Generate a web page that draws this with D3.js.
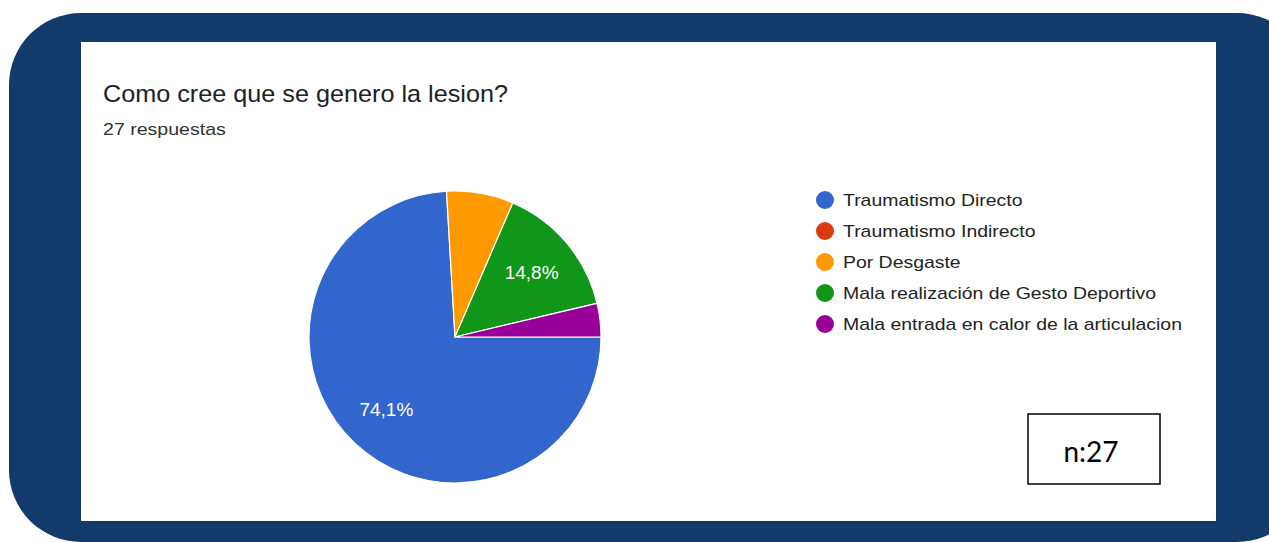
<!DOCTYPE html>
<html>
<head>
<meta charset="utf-8">
<script src="https://cdn.jsdelivr.net/npm/d3@7"></script>
<style>
  html, body { margin: 0; padding: 0; background: #ffffff; }
  svg { display: block; }
</style>
</head>
<body>
<svg id="chart" width="1269" height="542"></svg>
<script>
// Survey answers: how the injury was caused (27 responses)
const categories = [
  "Traumatismo Directo",
  "Traumatismo Indirecto",
  "Por Desgaste",
  "Mala realización de Gesto Deportivo",
  "Mala entrada en calor de la articulacion"
];
const counts = [20, 0, 2, 4, 1];
const sliceColors = ["#3366cc", "#dc3912", "#ff9900", "#109618", "#990099"];
const titleText = "Como cree que se genero la lesion?";
const subtitleText = "27 respuestas";
const sampleText = "n:27";

const svg = d3.select("#chart");
const SANS = "'Liberation Sans', Arial, sans-serif";

// Writes a text at (x, y) and stretches it horizontally to a given width
function wideText(parent, x, y, str, size, width, opts = {}) {
  const g = parent.append("g");
  const t = g.append("text")
    .attr("font-family", opts.family || SANS)
    .attr("font-size", size)
    .attr("fill", opts.fill || "#222222")
    .attr("text-anchor", opts.anchor || "start")
    .attr("dy", opts.dy || null)
    .text(str);
  const w = t.node().getComputedTextLength();
  const sx = width ? width / w : 1;
  g.attr("transform", `translate(${x},${y}) scale(${sx},1)`);
  return g;
}

// Navy rounded frame and white card
svg.append("rect")
  .attr("x", 9).attr("y", 13)
  .attr("width", 1300).attr("height", 529)
  .attr("rx", 72).attr("ry", 72)
  .attr("fill", "#123b6b");
svg.append("rect")
  .attr("x", 81).attr("y", 42)
  .attr("width", 1135).attr("height", 479)
  .attr("fill", "#ffffff");

// Titles
wideText(svg, 103, 102, titleText, 24, 405, { fill: "#202124" });
wideText(svg, 103, 135, subtitleText, 16, 123, { fill: "#333333" });

// Pie
const cx = 455, cy = 337, R = 146;
const total = d3.sum(counts);
const pie = d3.pie().sort(null).value(d => d)
  .startAngle(Math.PI / 2).endAngle(Math.PI / 2 + 2 * Math.PI);
const arcs = pie(counts);
const arc = d3.arc().innerRadius(0).outerRadius(R);
const labelArc = d3.arc().innerRadius(R * 0.685).outerRadius(R * 0.685);

const g = svg.append("g").attr("transform", `translate(${cx},${cy})`);
g.selectAll("path.slice")
  .data(arcs.filter(d => d.value > 0))
  .join("path")
  .attr("class", "slice")
  .attr("d", arc)
  .attr("fill", d => sliceColors[d.index])
  .attr("stroke", "#ffffff")
  .attr("stroke-width", 1.2);

const fmt = v => (v * 100).toFixed(1).replace(".", ",") + "%";
arcs.filter(d => d.value / total > 0.1).forEach(d => {
  const [lx, ly] = labelArc.centroid(d);
  wideText(g, lx, ly, fmt(d.value / total), 17.5, 54,
    { fill: "#ffffff", anchor: "middle", dy: "0.35em" });
});

// Legend
const legendY = d3.scalePoint().domain(categories).range([200, 324]);
const legend = svg.append("g");
categories.forEach((c, i) => {
  legend.append("circle")
    .attr("cx", 825).attr("cy", legendY(c))
    .attr("r", 9)
    .attr("fill", sliceColors[i]);
});
// all legend labels share one horizontal stretch
const probe = legend.append("text")
  .attr("font-family", SANS).attr("font-size", 17)
  .text(categories[4]);
const legendScale = 339 / probe.node().getComputedTextLength();
probe.remove();
categories.forEach(c => {
  legend.append("g")
    .attr("transform", `translate(843,${legendY(c)}) scale(${legendScale},1)`)
    .append("text")
    .attr("dy", "0.36em")
    .attr("font-family", SANS)
    .attr("font-size", 17)
    .attr("fill", "#222222")
    .text(c);
});

// Sample size box
svg.append("rect")
  .attr("x", 1028).attr("y", 414)
  .attr("width", 132).attr("height", 70)
  .attr("fill", "#ffffff")
  .attr("stroke", "#000000")
  .attr("stroke-width", 1.5);
svg.append("text")
  .attr("x", 1091).attr("y", 452)
  .attr("dy", "0.35em")
  .attr("text-anchor", "middle")
  .attr("font-family", "Lato, 'Open Sans', sans-serif")
  .attr("font-size", 28)
  .attr("fill", "#000000")
  .text(sampleText);
</script>
</body>
</html>
